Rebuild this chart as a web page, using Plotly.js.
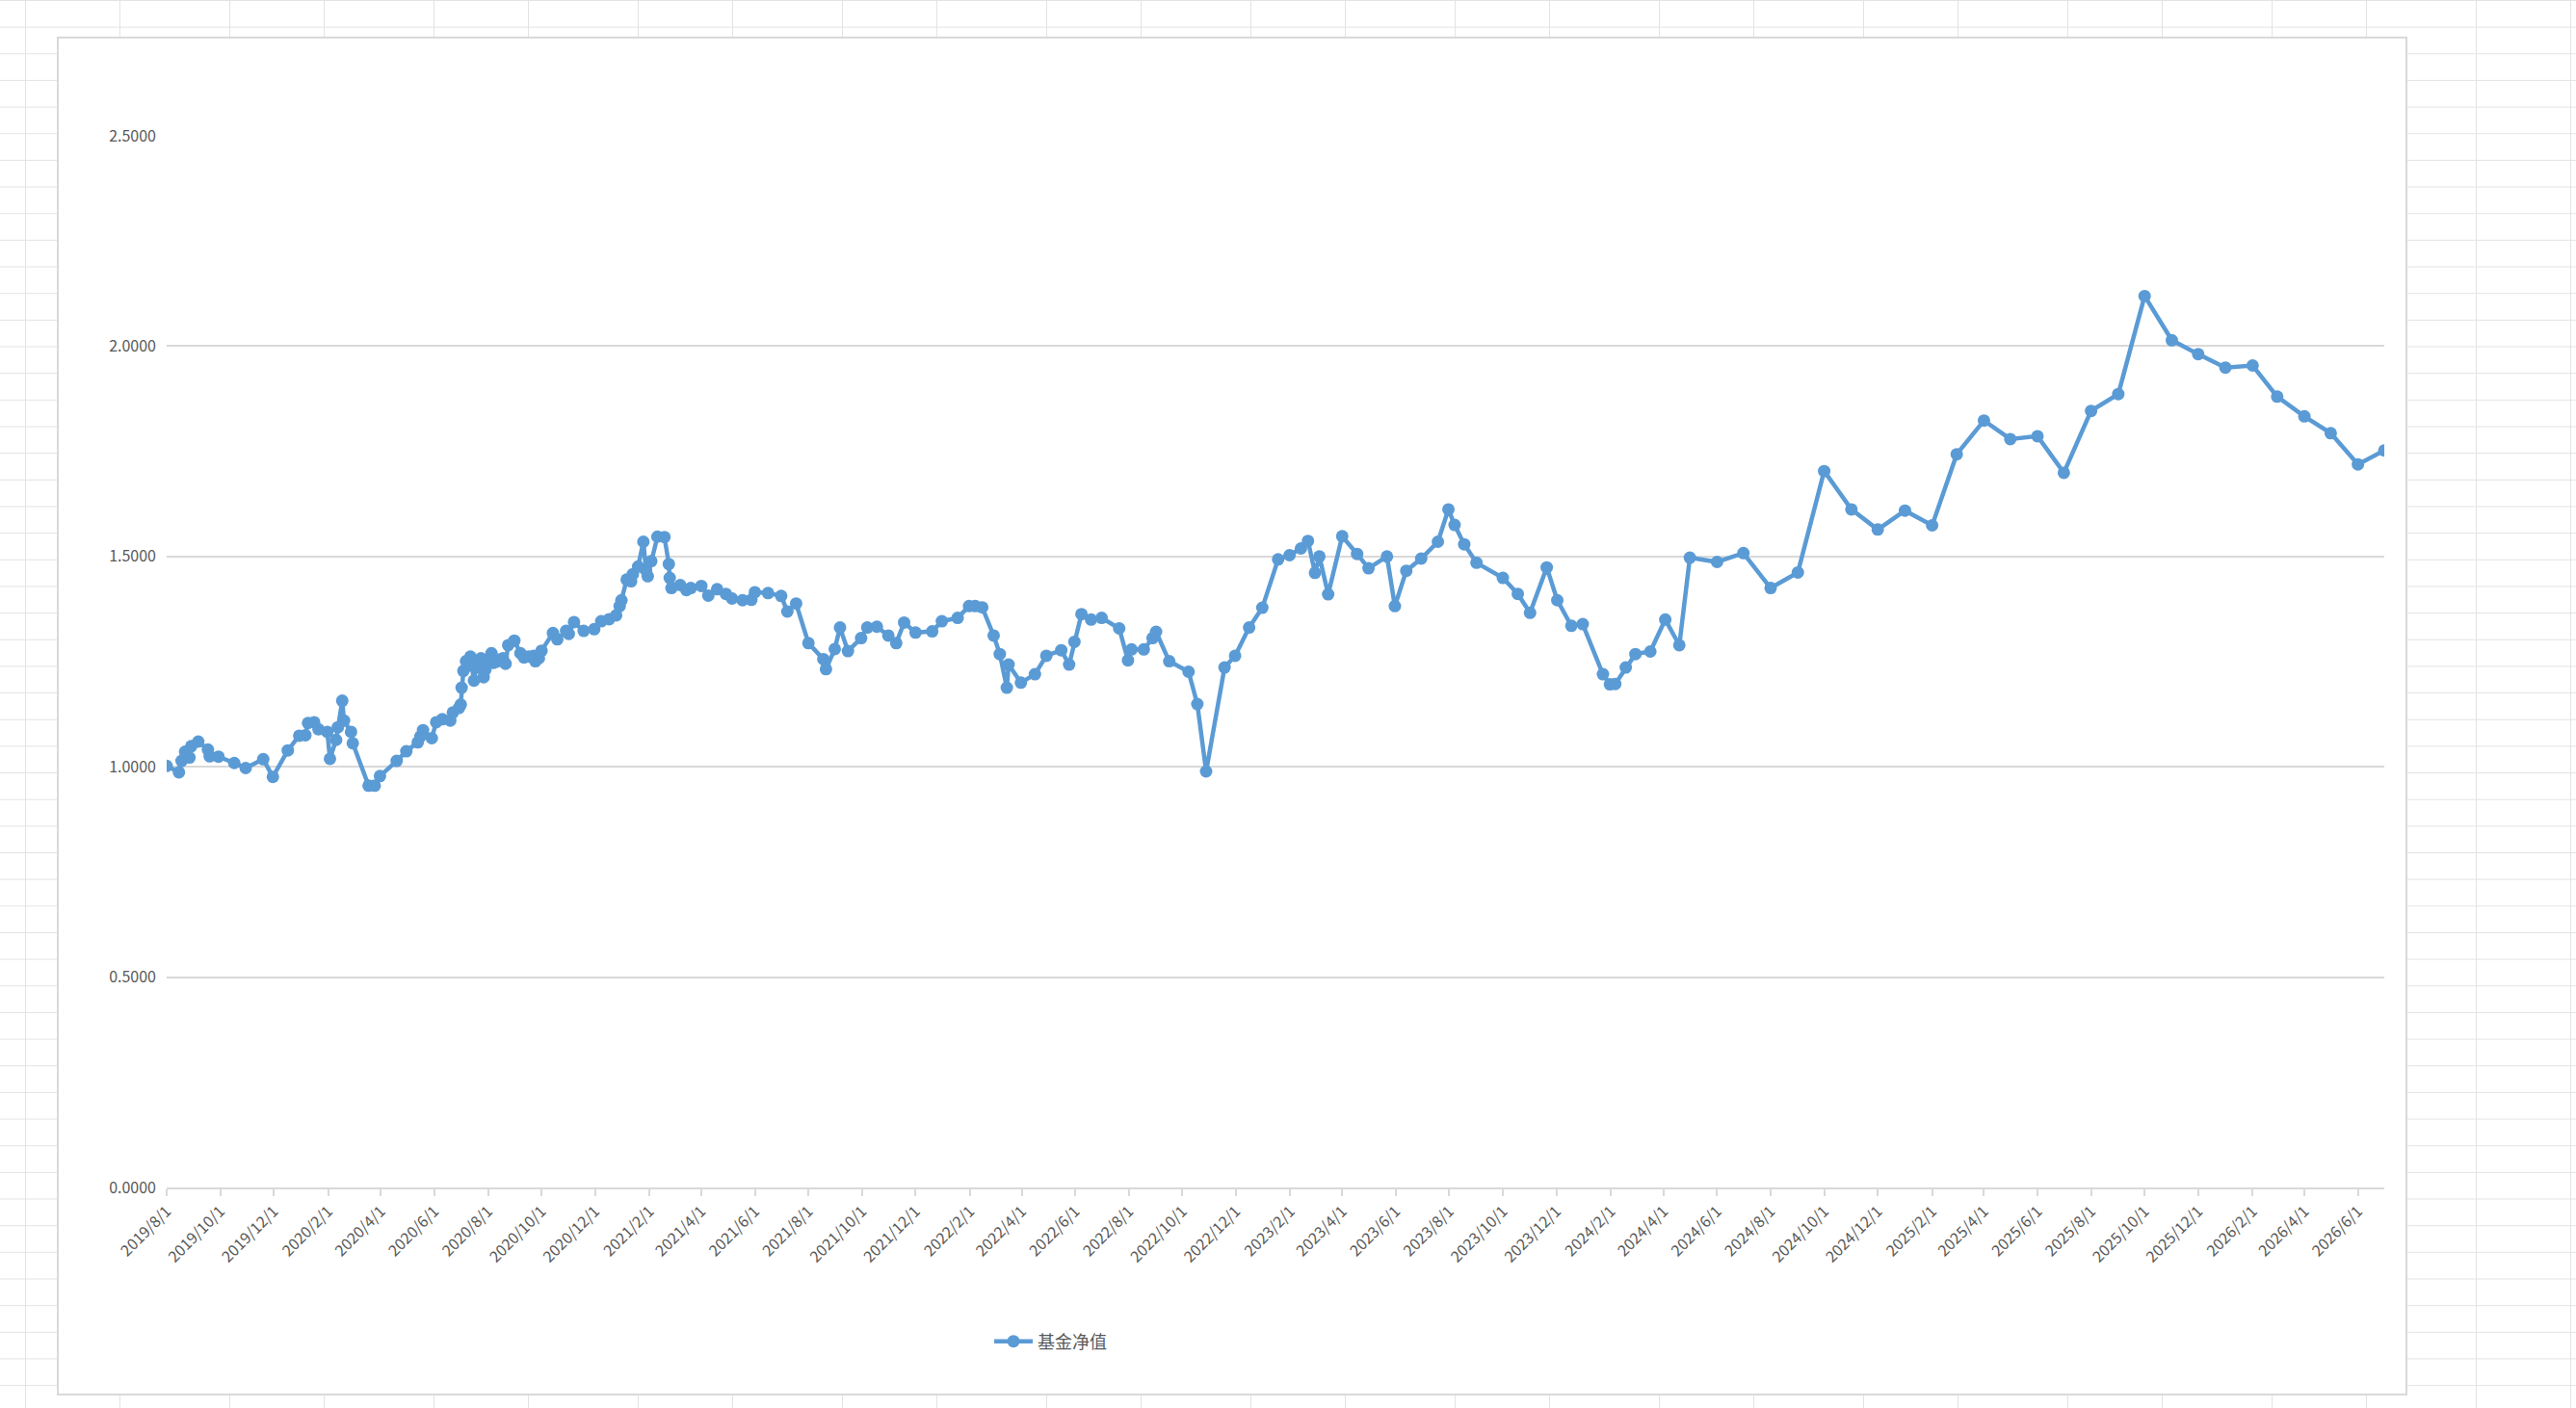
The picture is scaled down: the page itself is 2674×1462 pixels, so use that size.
<!DOCTYPE html>
<html>
<head>
<meta charset="utf-8">
<script src="https://cdn.plot.ly/plotly-3.0.1.min.js"></script>
<style>
  html, body { margin:0; padding:0; width:2674px; height:1462px; overflow:hidden; background:#fff; }
  .sheet { position:absolute; left:0; top:0; width:2674px; height:1462px;
    background-image:
      linear-gradient(to bottom, #e3e3e3 1px, transparent 1px),
      linear-gradient(to right, #e3e3e3 1px, transparent 1px, transparent 98px, #e3e3e3 98px, #e3e3e3 99px, transparent 99px);
    background-size: 100% 27.67px, 212px 100%;
    background-position: 0 0, 26px 0;
  }
  .box { position:absolute; left:59px; top:38px; width:2436px; height:1407px; border:2px solid #d9d9d9; background:#fff; }
  #chart { position:absolute; left:0; top:0; width:2674px; height:1462px; }
</style>
</head>
<body>
<div class="sheet"></div>
<div class="box"></div>
<div id="chart"></div>
<script>
const seriesName = "基金净值";

const navDates = [
  "2019-08-01","2019-08-15","2019-08-18","2019-08-22","2019-08-27","2019-08-29","2019-09-06","2019-09-17","2019-09-19","2019-09-29",
  "2019-10-17","2019-10-30","2019-11-19","2019-11-30","2019-12-17","2019-12-30","2020-01-06","2020-01-09","2020-01-16","2020-01-21",
  "2020-01-31","2020-02-03","2020-02-10","2020-02-12","2020-02-17","2020-02-19","2020-02-27","2020-02-29","2020-03-18","2020-03-25",
  "2020-03-31","2020-04-19","2020-04-30","2020-05-13","2020-05-16","2020-05-19","2020-05-29","2020-06-03","2020-06-10","2020-06-19",
  "2020-06-22","2020-06-29","2020-07-01","2020-07-02","2020-07-04","2020-07-07","2020-07-09","2020-07-12","2020-07-16","2020-07-18",
  "2020-07-21","2020-07-24","2020-07-27","2020-07-29","2020-08-01","2020-08-05","2020-08-07","2020-08-11","2020-08-15","2020-08-18",
  "2020-08-21","2020-08-24","2020-08-31","2020-09-07","2020-09-11","2020-09-16","2020-09-22","2020-09-24","2020-09-28","2020-10-01",
  "2020-10-14","2020-10-19","2020-10-29","2020-11-01","2020-11-07","2020-11-18","2020-11-30","2020-12-08","2020-12-17","2020-12-25",
  "2020-12-29","2020-12-31","2021-01-06","2021-01-11","2021-01-13","2021-01-19","2021-01-25","2021-01-28","2021-01-30","2021-02-03",
  "2021-02-10","2021-02-18","2021-02-23","2021-02-24","2021-02-26","2021-03-08","2021-03-15","2021-03-20","2021-04-01","2021-04-09",
  "2021-04-19","2021-04-29","2021-05-06","2021-05-18","2021-05-28","2021-06-01","2021-06-16","2021-07-01","2021-07-08","2021-07-18",
  "2021-08-01","2021-08-18","2021-08-21","2021-08-31","2021-09-06","2021-09-15","2021-09-30","2021-10-07","2021-10-18","2021-10-31",
  "2021-11-09","2021-11-18","2021-12-01","2021-12-20","2021-12-31","2022-01-18","2022-01-31","2022-02-07","2022-02-15","2022-02-28",
  "2022-03-07","2022-03-15","2022-03-17","2022-03-31","2022-04-16","2022-04-29","2022-05-16","2022-05-25","2022-05-31","2022-06-08",
  "2022-06-19","2022-07-01","2022-07-21","2022-07-31","2022-08-04","2022-08-18","2022-08-28","2022-09-01","2022-09-16","2022-10-08",
  "2022-10-18","2022-10-28","2022-11-18","2022-11-30","2022-12-16","2022-12-31","2023-01-18","2023-01-31","2023-02-13","2023-02-21",
  "2023-03-01","2023-03-06","2023-03-16","2023-04-01","2023-04-18","2023-05-01","2023-05-22","2023-05-31","2023-06-13","2023-06-30",
  "2023-07-19","2023-07-31","2023-08-07","2023-08-18","2023-09-01","2023-10-01","2023-10-18","2023-11-01","2023-11-20","2023-12-02",
  "2023-12-18","2023-12-31","2024-01-23","2024-01-31","2024-02-06","2024-02-18","2024-02-29","2024-03-17","2024-04-03","2024-04-19",
  "2024-05-01","2024-06-01","2024-07-01","2024-08-01","2024-09-01","2024-10-01","2024-11-01","2024-12-01","2025-01-01","2025-02-01",
  "2025-03-01","2025-04-01","2025-05-01","2025-06-01","2025-07-01","2025-08-01","2025-09-01","2025-10-01","2025-11-01","2025-12-01",
  "2026-01-01","2026-02-01","2026-03-01","2026-04-01","2026-05-01","2026-06-01","2026-07-01"
];

const navValues = [
  1.002,0.987,1.014,1.036,1.022,1.049,1.060,1.041,1.025,1.024,
  1.009,0.997,1.018,0.976,1.039,1.074,1.075,1.104,1.106,1.089,
  1.083,1.019,1.064,1.094,1.157,1.110,1.083,1.056,0.955,0.955,
  0.978,1.014,1.037,1.058,1.072,1.087,1.068,1.106,1.113,1.110,
  1.129,1.140,1.148,1.188,1.228,1.251,1.240,1.262,1.205,1.235,
  1.247,1.258,1.213,1.231,1.250,1.270,1.247,1.250,1.255,1.258,
  1.245,1.289,1.300,1.270,1.260,1.262,1.264,1.251,1.258,1.276,
  1.318,1.303,1.323,1.316,1.344,1.323,1.327,1.346,1.351,1.360,
  1.382,1.396,1.445,1.441,1.458,1.476,1.535,1.467,1.453,1.489,
  1.547,1.546,1.482,1.449,1.425,1.432,1.420,1.425,1.430,1.407,
  1.422,1.411,1.400,1.396,1.397,1.415,1.413,1.406,1.369,1.388,
  1.294,1.256,1.232,1.280,1.331,1.275,1.306,1.331,1.333,1.312,
  1.294,1.343,1.319,1.322,1.346,1.354,1.382,1.382,1.379,1.312,
  1.268,1.188,1.243,1.200,1.220,1.264,1.277,1.243,1.297,1.363,
  1.350,1.354,1.329,1.253,1.279,1.279,1.306,1.321,1.251,1.226,
  1.149,0.989,1.236,1.264,1.331,1.378,1.493,1.503,1.519,1.537,
  1.461,1.500,1.410,1.548,1.506,1.472,1.500,1.382,1.466,1.495,
  1.535,1.612,1.575,1.529,1.485,1.449,1.411,1.366,1.474,1.396,
  1.335,1.339,1.220,1.196,1.197,1.236,1.268,1.274,1.350,1.289,
  1.497,1.487,1.508,1.425,1.462,1.703,1.612,1.564,1.609,1.574,
  1.743,1.823,1.779,1.786,1.699,1.846,1.886,2.119,2.014,1.981,
  1.949,1.954,1.880,1.833,1.793,1.719,1.752
];

const xTickLabels = [
  "2019/8/1","2019/10/1","2019/12/1","2020/2/1","2020/4/1","2020/6/1","2020/8/1","2020/10/1","2020/12/1",
  "2021/2/1","2021/4/1","2021/6/1","2021/8/1","2021/10/1","2021/12/1","2022/2/1","2022/4/1","2022/6/1",
  "2022/8/1","2022/10/1","2022/12/1","2023/2/1","2023/4/1","2023/6/1","2023/8/1","2023/10/1","2023/12/1",
  "2024/2/1","2024/4/1","2024/6/1","2024/8/1","2024/10/1","2024/12/1","2025/2/1","2025/4/1","2025/6/1",
  "2025/8/1","2025/10/1","2025/12/1","2026/2/1","2026/4/1","2026/6/1"
];
const xRange = ["2019-08-01", "2026-07-01"];

const yTickVals = [0, 0.5, 1.0, 1.5, 2.0, 2.5];
const yTickLabels = ["0.0000","0.5000","1.0000","1.5000","2.0000","2.5000"];

const xTickVals = xTickLabels.map(function (s) {
  const p = s.split("/");
  return p[0] + "-" + String(p[1]).padStart(2, "0") + "-" + String(p[2]).padStart(2, "0");
});

const lineColor = "#5b9bd5";
const fontFam = "'Noto Sans CJK SC', 'Noto Sans', sans-serif";

const trace = {
  type: "scatter",
  mode: "lines+markers",
  name: seriesName,
  x: navDates,
  y: navValues,
  line: { color: lineColor, width: 4.5 },
  marker: { color: lineColor, size: 13 },
  hoverinfo: "skip"
};

const layout = {
  width: 2674,
  height: 1462,
  margin: { l: 173, r: 199, t: 141, b: 229, pad: 0 },
  paper_bgcolor: "rgba(0,0,0,0)",
  plot_bgcolor: "rgba(0,0,0,0)",
  font: { family: fontFam, size: 16, color: "#595959" },
  showlegend: true,
  legend: {
    orientation: "h",
    x: 0.371, xanchor: "left",
    y: -0.1465, yanchor: "middle",
    itemwidth: 40,
    font: { family: fontFam, size: 18, color: "#595959" },
    bgcolor: "rgba(0,0,0,0)"
  },
  xaxis: {
    type: "date",
    range: xRange,
    tickmode: "array",
    tickvals: xTickVals,
    ticktext: xTickLabels,
    tickangle: -45,
    ticks: "outside",
    ticklen: 7,
    tickwidth: 2,
    tickcolor: "#d9d9d9",
    showline: true,
    linecolor: "#d9d9d9",
    linewidth: 2,
    showgrid: false,
    zeroline: false,
    tickfont: { family: fontFam, size: 16, color: "#595959" }
  },
  yaxis: {
    range: [0, 2.5],
    tickmode: "array",
    tickvals: yTickVals,
    ticktext: yTickLabels,
    showgrid: true,
    gridcolor: "#d9d9d9",
    gridwidth: 2,
    zeroline: false,
    showline: false,
    ticks: "",
    ticklabelstandoff: 10,
    tickfont: { family: fontFam, size: 16, color: "#595959" }
  }
};

Plotly.newPlot("chart", [trace], layout, { displayModeBar: false, staticPlot: true });
</script>
</body>
</html>
